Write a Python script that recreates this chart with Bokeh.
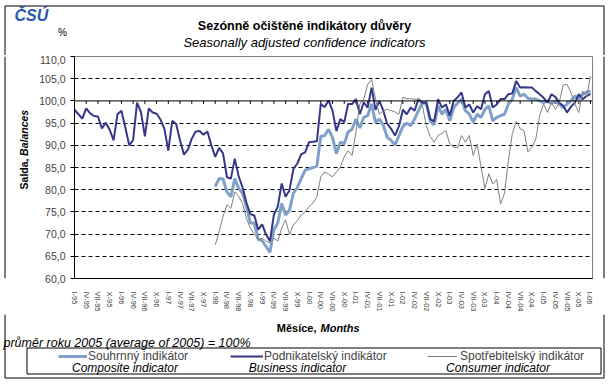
from math import pi
from bokeh.plotting import figure
from bokeh.layouts import column, row
from bokeh.models import Range1d, FixedTicker, Span, Legend, LegendItem
from bokeh.core.properties import value
from bokeh.embed import file_html
from bokeh.resources import INLINE

# ---------------- data ----------------
tick_labels = ["I-95", "IV-95", "VII-95", "X-95", "I-96", "IV-96", "VII-96", "X-96",
               "I-97", "IV-97", "VII-97", "X-97", "I-98", "IV-98", "VII-98", "X-98",
               "I-99", "IV-99", "VII-99", "X-99", "I-00", "IV-00", "VII-00", "X-00",
               "I-01", "IV-01", "VII-01", "X-01", "I-02", "IV-02", "VII-02", "X-02",
               "I-03", "IV-03", "VII-03", "X-03", "I-04", "IV-04", "VII-04", "X-04",
               "I-05", "IV-05", "VII-05", "X-05", "I-06"]

# Business indicator, monthly I-95 .. I-06
business = [98.0, 97.0, 96.0, 98.3, 97.2, 96.6, 96.5, 93.8, 95.1, 93.5,
            91.1, 97.0, 97.8, 94.0, 90.0, 91.2, 99.6, 97.5, 92.0, 98.3,
            97.4, 97.1, 95.8, 93.7, 88.8, 95.5, 94.8, 91.1, 87.9, 89.0,
            91.5, 93.1, 93.2, 92.4, 93.1, 90.0, 87.4, 89.4, 88.2, 82.8,
            82.5, 87.0, 83.0, 80.5, 77.0, 74.5, 74.2, 71.0, 72.2, 69.9,
            68.4, 74.3, 76.2, 81.4, 78.4, 79.9, 84.7, 85.9, 88.0, 88.4,
            90.7, 90.8, 90.9, 99.3, 98.6, 100.1, 97.8, 93.2, 95.9, 95.2,
            99.3, 99.3, 100.4, 97.0, 99.7, 98.5, 103.0, 98.0, 100.0, 97.8,
            94.8, 93.7, 92.2, 94.3, 98.0, 97.0, 98.5, 97.8, 100.4, 99.6,
            99.6, 95.9, 95.4, 100.4, 98.5, 99.2, 96.7, 100.0, 100.8, 101.9,
            98.5, 99.2, 97.4, 98.8, 98.1, 101.5, 102.2, 98.5, 99.2, 100.4,
            100.4, 101.5, 101.7, 104.5, 103.0, 103.1, 103.0, 103.0, 102.2, 101.5,
            100.7, 99.6, 101.5, 100.9, 99.6, 98.9, 97.4, 98.7, 99.6, 101.5,
            100.4, 101.1, 101.6]

# Composite indicator, monthly I-98 .. I-06
composite = [80.7, 82.5, 82.4, 79.5, 78.4, 82.5, 80.3, 79.2, 76.2, 72.5,
             72.5, 68.8, 68.5, 67.2, 65.9, 71.0, 72.5, 76.9, 74.3, 75.4,
             79.2, 80.5, 82.5, 84.4, 84.7, 85.0, 85.3, 92.0, 92.2, 93.6,
             91.8, 88.1, 90.7, 90.3, 93.0, 93.6, 95.9, 93.9, 96.3, 96.7,
             99.3, 95.2, 95.9, 94.5, 91.8, 91.1, 90.0, 92.2, 94.2, 95.0,
             94.4, 95.9, 97.8, 99.6, 99.4, 95.5, 94.6, 98.9, 97.0, 98.1,
             95.5, 98.5, 99.5, 100.4, 97.8, 97.0, 95.2, 97.0, 96.3, 98.1,
             98.9, 95.5, 96.3, 96.7, 97.0, 99.3, 100.4, 103.0, 101.1, 101.5,
             100.6, 100.4, 100.4, 100.0, 99.6, 100.0, 99.4, 100.0, 99.3, 98.5,
             99.3, 100.0, 101.1, 100.4, 101.5, 102.0, 102.2]

# Consumer indicator, monthly I-98 .. I-06
consumer = [67.6, 70.5, 74.0, 76.6, 75.8, 79.5, 78.5, 76.9, 73.5, 71.3,
            70.0, 68.8, 69.1, 68.4, 68.0, 69.1, 68.4, 71.4, 73.2, 69.9,
            72.1, 73.0, 74.3, 75.0, 76.2, 77.0, 78.4, 82.9, 84.0, 83.5,
            82.9, 84.0, 85.1, 87.4, 88.8, 87.7, 93.0, 99.3, 100.4, 103.7,
            104.8, 100.5, 97.0, 97.8, 98.1, 97.8, 97.5, 97.0, 100.8, 100.5,
            100.5, 100.4, 100.4, 98.9, 94.4, 92.0, 90.7, 92.2, 92.7, 93.3,
            90.3, 89.6, 89.4, 92.2, 90.7, 92.2, 87.7, 90.3, 85.1, 80.3,
            83.6, 81.3, 82.3, 76.8, 79.2, 86.6, 92.6, 95.4, 93.7, 93.3,
            88.5, 89.6, 91.4, 96.7, 99.3, 97.4, 99.6, 98.1, 99.6, 103.6,
            103.7, 101.9, 99.3, 97.4, 102.2, 101.0, 105.6]

y_ticks = [60, 65, 70, 75, 80, 85, 90, 95, 100, 105, 110]

n_months = len(business)
months_all = list(range(n_months))
start_98 = n_months - len(composite)
months_98 = list(range(start_98, n_months))
x_ticks = [3 * k for k in range(len(tick_labels))]

FONT = "Liberation Sans"
COL_COMP = "#7fa0c8"
COL_BUS = "#36368a"
COL_CONS = "#808080"

TOTAL_W = 608
HEAD_H = 55
MID_H = 259
FOOT_H = 74
LEFT_W = 36
RIGHT_W = 15
MAIN_W = TOTAL_W - LEFT_W - RIGHT_W  # 557
BX_L, BX_R = 4.5, 603.5          # outer border (page x)


def deco(w, h):
    f = figure(width=w, height=h, output_backend="svg", toolbar_location=None,
               x_range=Range1d(0, w), y_range=Range1d(0, h),
               x_axis_location=None, y_axis_location=None,
               min_border=0, min_border_left=0, min_border_right=0,
               min_border_top=0, min_border_bottom=0)
    f.outline_line_color = None
    f.background_fill_color = "white"
    f.border_fill_color = "white"
    f.xgrid.visible = False
    f.ygrid.visible = False
    return f


def txt(f, h, text, cx, cy, size, style="normal", align="left", color="black", angle=0.0):
    f.text(x=[cx], y=[h - cy], text=[text], text_font=value(FONT), text_font_size=size,
           text_font_style=style, text_align=align, text_baseline="middle",
           text_color=color, angle=angle)


def seg(f, h, x0, y0, x1, y1):
    f.segment(x0=[x0], y0=[h - y0], x1=[x1], y1=[h - y1], line_color="black", line_width=1)


# ---------------- header (page y 0..55) ----------------
head = deco(TOTAL_W, HEAD_H)
txt(head, HEAD_H, "ČSÚ", 14, 15, "16px", "bold italic", "left", "#2a58b0")
txt(head, HEAD_H, "%", 62, 32, "10px", "normal", "center")
txt(head, HEAD_H, "Sezónně očištěné indikátory důvěry", 304, 25, "12.5px", "bold", "center")
txt(head, HEAD_H, "Seasonally adjusted confidence indicators", 304, 42, "13px", "italic", "center")
seg(head, HEAD_H, BX_L, 5.5, BX_R, 5.5)
seg(head, HEAD_H, BX_L, 5.5, BX_L, HEAD_H)
seg(head, HEAD_H, BX_R, 5.5, BX_R, HEAD_H)

# ---------------- left strip (page x 0..36, y 55..314) ----------------
left = deco(LEFT_W, MID_H)
txt(left, MID_H, "Balances", 23, 116, "10.5px", "bold italic", "left", angle=pi / 2)
txt(left, MID_H, "Salda,", 23, 119, "10.5px", "bold", "right", angle=pi / 2)
seg(left, MID_H, BX_L, 0, BX_L, MID_H)

# ---------------- right strip (page x 593..608) ----------------
right = deco(RIGHT_W, MID_H)
seg(right, MID_H, BX_R - (LEFT_W + MAIN_W), 0, BX_R - (LEFT_W + MAIN_W), MID_H)

# ---------------- main chart ----------------
p = figure(width=MAIN_W, height=MID_H, output_backend="svg", toolbar_location=None,
           x_range=Range1d(0, 132.51), y_range=Range1d(60, 110),
           min_border_left=36, min_border_right=1, min_border_top=1,
           min_border_bottom=36)
p.background_fill_color = "white"
p.border_fill_color = "white"
p.outline_line_color = "#808080"

yax = p.yaxis[0]
yax.ticker = FixedTicker(ticks=y_ticks)
yax.major_label_overrides = {t: f"{t:.1f}".replace(".", ",") for t in y_ticks}
yax.major_tick_out = 4
yax.major_tick_in = 0
yax.minor_tick_line_color = None
yax.axis_line_color = "black"
yax.major_tick_line_color = "black"
yax.major_label_text_font = FONT
yax.major_label_text_font_size = "10.5px"
yax.major_label_standoff = 5

xax = p.xaxis[0]
xax.ticker = FixedTicker(ticks=x_ticks)
xax.major_label_overrides = dict(zip(x_ticks, tick_labels))
xax.major_label_orientation = "vertical"
xax.major_tick_line_color = None
xax.major_tick_out = 0
xax.major_tick_in = 0
xax.minor_tick_line_color = None
xax.axis_line_color = "black"
xax.major_label_text_font = FONT
xax.major_label_text_font_size = "7.5px"
xax.major_label_standoff = 13

p.xgrid.visible = False
p.ygrid.ticker = FixedTicker(ticks=[65, 70, 75, 80, 85, 90, 95, 105])
p.ygrid.grid_line_color = "black"
p.ygrid.grid_line_dash = "4 3"
p.ygrid.grid_line_width = 1

p.add_layout(Span(location=100, dimension="width", line_color="black", line_width=1))
p.segment(x0=x_ticks, y0=[100] * len(x_ticks), x1=x_ticks,
          y1=[100 - 3 * 50.0 / 222.0] * len(x_ticks), line_color="black", line_width=1)

p.line(months_98, composite, line_color=COL_COMP, line_width=3)
p.line(months_all, business, line_color=COL_BUS, line_width=2)
p.line(months_98, consumer, line_color=COL_CONS, line_width=1)

# ---------------- footer (page y 314..388) ----------------
foot = deco(TOTAL_W, FOOT_H)
txt(foot, FOOT_H, "Měsíce,", 316, 13, "11px", "bold", "right")
txt(foot, FOOT_H, "Months", 320, 13, "11px", "bold italic", "left")
txt(foot, FOOT_H, "průměr roku 2005 (average of 2005) = 100%", 3, 28, "12.5px", "italic", "left")

# legend box
foot.quad(left=[26.5], right=[600.5], top=[FOOT_H - 33.5], bottom=[FOOT_H - 59.5],
          fill_color=None, line_color="black", line_width=1)

# legend sample renderers (styled like the series, kept outside the visible range)
l_comp = foot.line([-50, -40], [-50, -50], line_color=COL_COMP, line_width=3)
l_bus = foot.line([-50, -40], [-50, -50], line_color=COL_BUS, line_width=2)
l_cons = foot.line([-50, -40], [-50, -50], line_color=COL_CONS, line_width=1)


def add_legend(renderer, label, vx, gw, standoff):
    lg = Legend(items=[LegendItem(label=label, renderers=[renderer])],
                location=(vx, 25), orientation="horizontal", padding=0, margin=0,
                spacing=0, glyph_width=gw, glyph_height=12, label_height=12,
                label_standoff=standoff, border_line_color=None,
                background_fill_alpha=0, label_text_font=FONT,
                label_text_font_size="12px")
    foot.add_layout(lg)


add_legend(l_comp, "Souhrnný indikátor", 58, 29, 1)
add_legend(l_bus, "Podnikatelský indikátor", 230, 33, 1)
add_legend(l_cons, "Spotřebitelský indikátor", 427, 30, 3)

txt(foot, FOOT_H, "Composite indicator", 124.5, 53, "12px", "italic", "center")
txt(foot, FOOT_H, "Business indicator", 297, 53, "12px", "italic", "center")
txt(foot, FOOT_H, "Consumer indicator", 497.5, 53, "12px", "italic", "center")

# outer border pieces
seg(foot, FOOT_H, BX_L, 0, BX_L, 63.5)
seg(foot, FOOT_H, BX_R, 0, BX_R, 63.5)
seg(foot, FOOT_H, BX_L, 63.5, BX_R, 63.5)

layout = column(head, row(left, p, right, spacing=0), foot, spacing=0)

open("out.html", "w").write(file_html(layout, INLINE))
